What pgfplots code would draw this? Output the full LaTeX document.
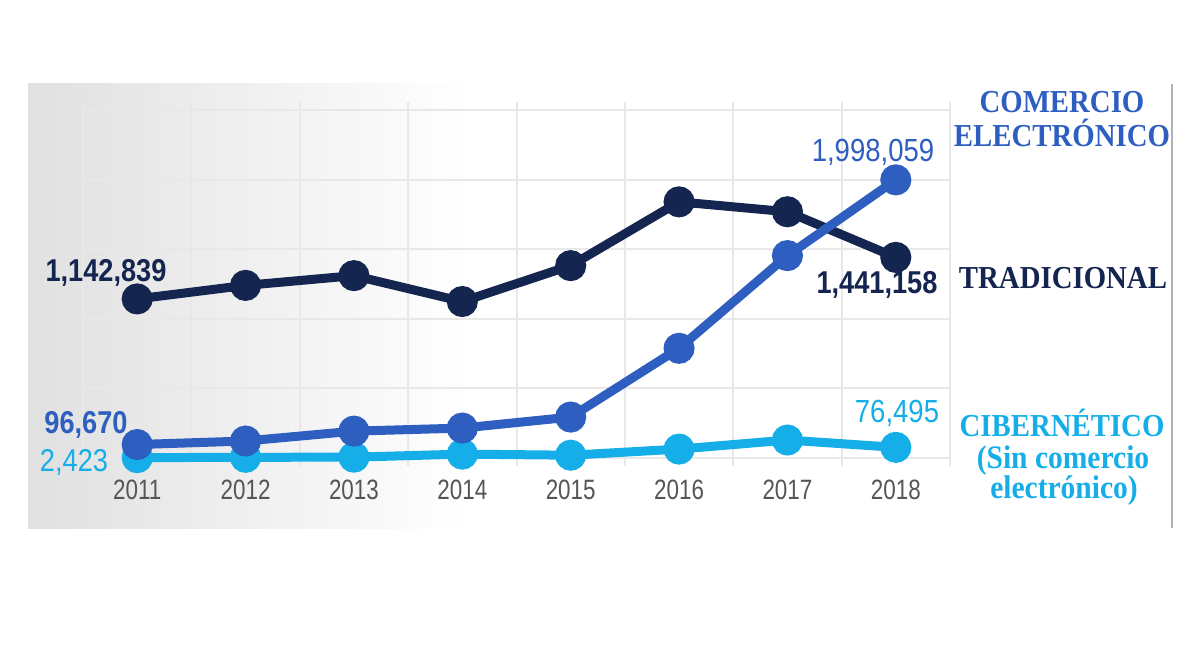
\documentclass[border=0pt]{standalone}
\usepackage{fontspec}
\setmainfont{Liberation Sans}
\newfontfamily\tickfont{Liberation Sans}[FakeStretch=0.8]
\newfontfamily\numfont{Liberation Sans}[FakeStretch=0.86]
\newfontfamily\serfont{Liberation Serif}[FakeStretch=0.9]
\usepackage{pgfplots}
\pgfplotsset{compat=1.18}
\definecolor{navy}{HTML}{14254F}
\definecolor{midblue}{HTML}{2D5EC0}
\definecolor{skyblue}{HTML}{16AEE8}
\definecolor{gridc}{HTML}{E8E8E8}
\definecolor{tickc}{HTML}{555555}

\begin{document}
\begin{tikzpicture}
% page frame in reference pixels (1200 x 650), y counted from the bottom
\begin{scope}[x=0.5pt,y=0.5pt]
\path (0,0) rectangle (1200,650);
\shade[left color=black!12, right color=white] (28,122) rectangle (470,567);
\draw[black!30, line width=1pt] (1172,122) -- (1172,566);
\end{scope}

\begin{axis}[
  at={(41.5pt,96pt)}, anchor=south west,
  width=433.5pt, height=174pt, scale only axis,
  xmin=-0.5, xmax=7.5, ymin=0, ymax=2500000,
  xtick={0,...,7},
  xticklabels={2011,2012,2013,2014,2015,2016,2017,2018},
  minor xtick={-0.5,0.5,...,7.5},
  ytick={0,500000,1000000,1500000,2000000,2500000},
  yticklabels={}, scaled y ticks=false,
  xminorgrids, ymajorgrids,
  grid style={gridc, line width=1pt},
  minor grid style={gridc, line width=1pt},
  axis line style={draw=none},
  major tick length=0pt,
  minor tick length=4pt, tick align=outside,
  minor tick style={gridc, line width=1pt},
  xticklabel style={font=\tickfont\fontsize{14}{14}\selectfont, text=tickc, yshift=-7.5pt},
  clip=false,
  every axis plot/.append style={line width=4.5pt, mark=*, mark size=5.5pt,
    mark options={draw=none}},
]
\addplot[skyblue, mark options={fill=skyblue}] coordinates {
  (0,2423) (1,5000) (2,6000) (3,28000) (4,20000) (5,64000) (6,129000) (7,76495)};
\addplot[navy, mark options={fill=navy}] coordinates {
  (0,1142839) (1,1240000) (2,1310000) (3,1124000) (4,1382000) (5,1840000) (6,1769000) (7,1441158)};
\addplot[midblue, mark options={fill=midblue}] coordinates {
  (0,96670) (1,122000) (2,193000) (3,215000) (4,294000) (5,788000) (6,1454000) (7,1998059)};
\end{axis}

\begin{scope}[x=0.5pt,y=0.5pt]
% value labels
\node[font=\numfont\bfseries\fontsize{15.8}{16}\selectfont, text=navy] at (106,377) {1,142,839};
\node[font=\numfont\bfseries\fontsize{15.8}{16}\selectfont, text=midblue] at (86,225) {96,670};
\node[font=\numfont\fontsize{15.8}{16}\selectfont, text=skyblue] at (74,188) {2,423};
\node[font=\numfont\fontsize{16}{16}\selectfont, text=midblue] at (873,498) {1,998,059};
\node[font=\numfont\bfseries\fontsize{15.8}{16}\selectfont, text=navy] at (877,365) {1,441,158};
\node[font=\numfont\fontsize{16}{16}\selectfont, text=skyblue] at (897,237) {76,495};

% series names, set on their baselines
\tikzset{lab/.style={font=\serfont\bfseries\fontsize{16}{16}\selectfont, anchor=base, inner sep=0pt}}
\node[lab, text=midblue] at (1062,538) {COMERCIO};
\node[lab, text=midblue] at (1062,504) {ELECTRÓNICO};
\node[lab, text=navy] at (1063,362) {TRADICIONAL};
\node[lab, text=skyblue] at (1062,214) {CIBERNÉTICO};
\node[lab, text=skyblue, font=\serfont\bfseries\fontsize{16.4}{16}\selectfont] at (1063,182) {(Sin comercio};
\node[lab, text=skyblue, font=\serfont\bfseries\fontsize{16.4}{16}\selectfont] at (1064,152) {electrónico)};
\end{scope}
\end{tikzpicture}
\end{document}
